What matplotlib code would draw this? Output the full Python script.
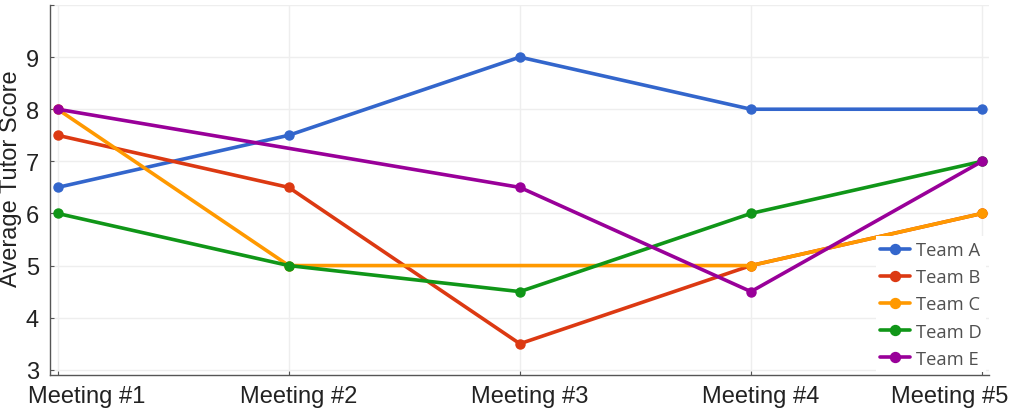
import numpy as np
import matplotlib
matplotlib.use("Agg")
import matplotlib.pyplot as plt
from matplotlib.transforms import ScaledTranslation

meetings = ["Meeting #1", "Meeting #2", "Meeting #3", "Meeting #4", "Meeting #5"]
teams = ["Team A", "Team B", "Team C", "Team D", "Team E"]
team_a = [6.5, 7.5, 9.0, 8.0, 8.0]
team_b = [7.5, 6.5, 3.5, 5.0, 6.0]
team_c = [8.0, 5.0, np.nan, 5.0, 6.0]
team_d = [6.0, 5.0, 4.5, 6.0, 7.0]
team_e = [8.0, np.nan, 6.5, 4.5, 7.0]
series = [team_a, team_b, team_c, team_d, team_e]
colors = ["#3366CC", "#DC3912", "#FF9900", "#109618", "#990099"]

W, H = 1010, 410
fig = plt.figure(figsize=(W / 100, H / 100), dpi=100)
ax = fig.add_axes([50 / W, 34 / H, 939 / W, 370 / H])

x = np.arange(1, len(meetings) + 1)
for name, vals, c in zip(teams, series, colors):
    v = np.array(vals, dtype=float)
    m = ~np.isnan(v)
    ax.plot(x[m], v[m], color=c, lw=2.6, marker="o", markersize=6.5,
            label=name, solid_capstyle="round")

ax.set_xlim(0.967, 5.03)
ax.set_ylim(2.9, 10.0)
ax.set_xticks(x)
ax.set_xticklabels(meetings, fontsize=17, family="Liberation Sans", color="#222222")
ax.set_yticks(range(3, 11))
ax.set_yticklabels([str(i) for i in range(3, 10)] + [""], fontsize=17,
                   family="Liberation Sans", color="#222222")
ax.tick_params(axis="x", direction="in", length=3, color="#555555", pad=7.5)
ax.tick_params(axis="y", direction="in", length=3, color="#555555", pad=8)

# horizontal shifts of the x tick labels (pixels)
shifts = [29, 10, 10, 10, -32]
for lab, dx in zip(ax.get_xticklabels(), shifts):
    lab.set_transform(lab.get_transform() + ScaledTranslation(dx / 100, 0, fig.dpi_scale_trans))

fig.text(0.0, 1 - 179 / H, "Average Tutor Score", rotation=90, ha="left",
         va="center", fontsize=17, family="Liberation Sans", color="#222222")

ax.grid(True, color="#eeeeee", lw=1)
ax.set_axisbelow(True)
for s in ["top", "right"]:
    ax.spines[s].set_visible(False)
for s in ["left", "bottom"]:
    ax.spines[s].set_color("#555555")
    ax.spines[s].set_linewidth(1)

leg = ax.legend(loc="lower right", bbox_to_anchor=(1.0, 0.0), frameon=True,
                prop={"family": "Open Sans", "size": 13.2}, handlelength=1.6,
                labelspacing=0.5, borderpad=0.25, handletextpad=0.35,
                borderaxespad=0.15, markerscale=1.1)
leg.get_frame().set_edgecolor("none")
leg.get_frame().set_facecolor("white")
leg.get_frame().set_alpha(1)
leg.get_frame().set_boxstyle("square", pad=0)
for t in leg.get_texts():
    t.set_color("#505050")

fig.savefig("out.png", dpi=100)
